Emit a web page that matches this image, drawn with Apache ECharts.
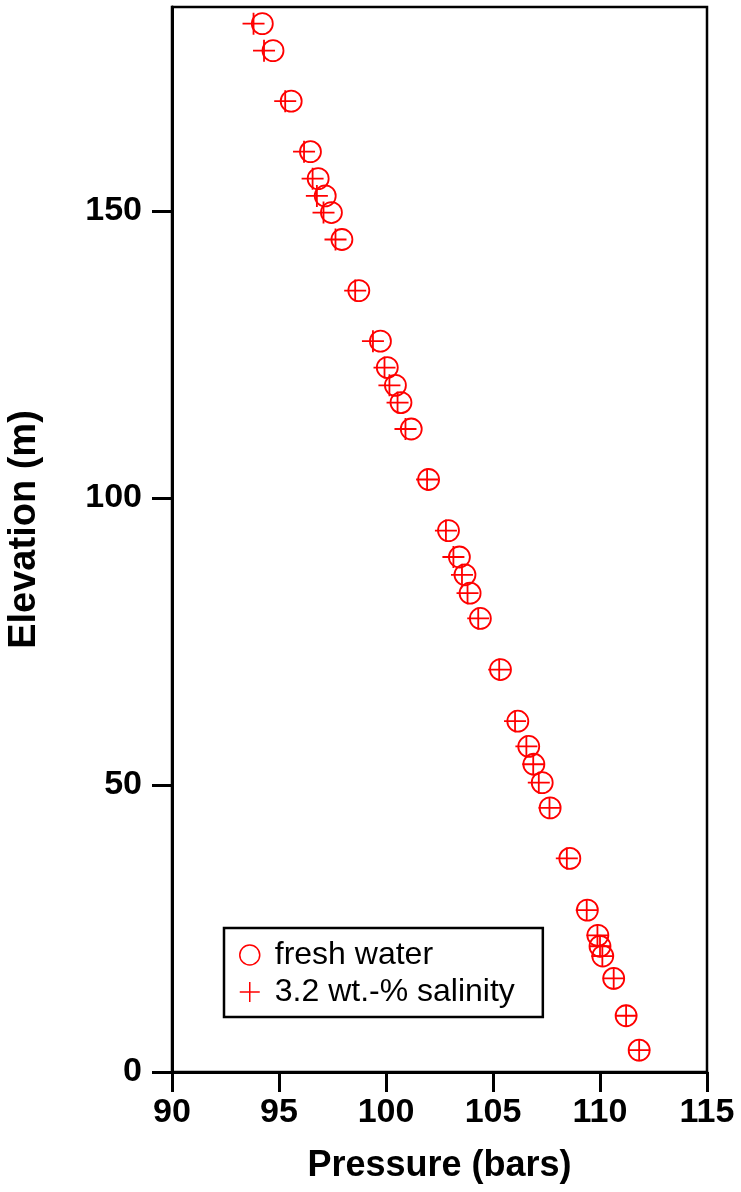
<!DOCTYPE html>
<html>
<head>
<meta charset="utf-8">
<script src="https://cdn.jsdelivr.net/npm/echarts@6/dist/echarts.min.js"></script>
<style>
html,body{margin:0;padding:0;background:#fff;}
#chart{width:741px;height:1192px;}
</style>
</head>
<body>
<div id="chart"></div>
<script>
// Elevation (m) of each measurement point
const elevation = [182.6, 177.9, 169.1, 160.3, 155.6, 152.6, 149.7, 145.0, 136.1, 127.3,
  122.7, 119.6, 116.6, 112.0, 103.2, 94.3, 89.7, 86.6, 83.4, 79.0,
  70.1, 61.1, 56.7, 53.6, 50.4, 46.0, 37.2, 28.2, 23.8, 21.9,
  20.2, 16.3, 9.8, 3.8];
// Pressure (bars), fresh water
const pressureFresh = [94.22, 94.72, 95.57, 96.47, 96.83, 97.16, 97.45, 97.94, 98.73, 99.74,
  100.06, 100.44, 100.70, 101.18, 101.99, 102.92, 103.43, 103.69, 103.93, 104.41,
  105.35, 106.16, 106.67, 106.91, 107.30, 107.67, 108.59, 109.41, 109.90, 110.00,
  110.13, 110.64, 111.22, 111.83];
// Pressure (bars), 3.2 wt.-% salinity
const pressureSaline = [93.81, 94.30, 95.29, 96.17, 96.57, 96.77, 97.08, 97.64, 98.56, 99.39,
  99.93, 100.16, 100.54, 100.91, 101.92, 102.80, 103.15, 103.55, 103.81, 104.31,
  105.29, 106.03, 106.56, 106.88, 107.14, 107.64, 108.45, 109.38, 109.88, 110.00,
  110.11, 110.64, 111.22, 111.83];
const seriesNames = ['fresh water', '3.2 wt.-% salinity'];
const xTicks = [90, 95, 100, 105, 110, 115];
const yTicks = [0, 50, 100, 150];

const plusPath = 'path://M10,0 L10,20 M0,10 L20,10';
const red = '#ff0000';
const FONT = 'Liberation Sans';

const chart = echarts.init(document.getElementById('chart'), null, {renderer: 'canvas'});
chart.setOption({
  animation: false,
  backgroundColor: '#ffffff',
  grid: {
    left: 172, right: 34, top: 7, bottom: 120,
    containLabel: false, outerBoundsMode: 'none',
    show: true, borderColor: '#000', borderWidth: 2.5, backgroundColor: 'transparent'
  },
  xAxis: {
    type: 'value', min: 90, max: 115, interval: 5,
    name: 'Pressure (bars)', nameLocation: 'middle', nameGap: 76,
    nameTextStyle: {fontFamily: FONT, fontWeight: 'bold', fontSize: 36, color: '#000'},
    axisLine: {show: true, lineStyle: {color: '#000', width: 3}},
    axisTick: {show: true, length: 20, lineStyle: {color: '#000', width: 3}, customValues: xTicks},
    axisLabel: {fontFamily: FONT, fontWeight: 'bold', fontSize: 34, color: '#000', margin: 24, customValues: xTicks},
    splitLine: {show: false}
  },
  yAxis: {
    type: 'value', min: 0, max: 185.5, interval: 50,
    name: 'Elevation (m)', nameLocation: 'middle', nameGap: 128,
    nameTextStyle: {fontFamily: FONT, fontWeight: 'bold', fontSize: 38, color: '#000', padding: [0, 0, 0, 20]},
    axisLine: {show: true, lineStyle: {color: '#000', width: 3}},
    axisTick: {show: true, length: 20, lineStyle: {color: '#000', width: 3}, customValues: yTicks},
    axisLabel: {fontFamily: FONT, fontWeight: 'bold', fontSize: 34, color: '#000', margin: 30, customValues: yTicks},
    splitLine: {show: false}
  },
  legend: {
    orient: 'vertical', left: 224, top: 928,
    padding: [11, 28, 9, 15],
    itemGap: 5, itemWidth: 20, itemHeight: 20,
    borderColor: '#000', borderWidth: 2.5, backgroundColor: '#fff',
    textStyle: {fontFamily: FONT, fontSize: 32, color: '#000', padding: [0, 0, 0, 10]},
    data: [
      {name: seriesNames[0], icon: 'circle', itemStyle: {color: 'transparent', borderColor: red, borderWidth: 1.5}},
      {name: seriesNames[1], icon: plusPath, itemStyle: {color: 'transparent', borderColor: red, borderWidth: 1.5}}
    ]
  },
  series: [
    {
      name: seriesNames[0], type: 'scatter', symbol: 'circle', symbolSize: 21,
      itemStyle: {color: 'transparent', borderColor: red, borderWidth: 1.8, opacity: 1},
      emphasis: {disabled: true},
      data: pressureFresh.map((p, i) => [p, elevation[i]])
    },
    {
      name: seriesNames[1], type: 'scatter', symbol: plusPath, symbolSize: 22,
      itemStyle: {color: 'transparent', borderColor: red, borderWidth: 1.8, opacity: 1},
      emphasis: {disabled: true},
      data: pressureSaline.map((p, i) => [p, elevation[i]])
    }
  ]
});
</script>
</body>
</html>
